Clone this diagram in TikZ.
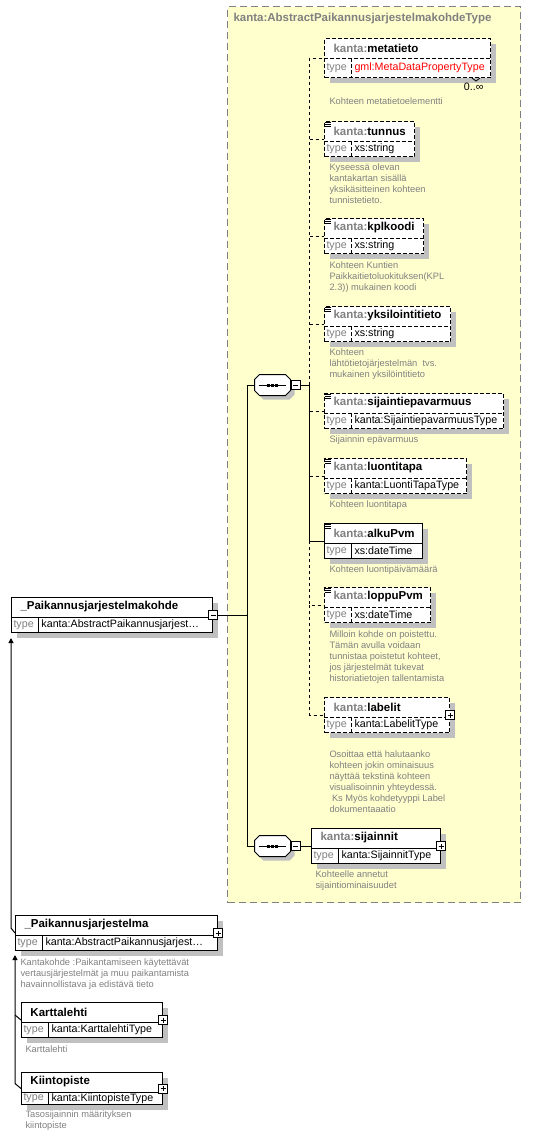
\documentclass[tikz,border=0pt]{standalone}
\usepackage{fontspec}
\setmainfont{Liberation Sans}
\usetikzlibrary{positioning, arrows.meta, calc, shadows}

\definecolor{schemayellow}{RGB}{255,255,206}
\definecolor{framegray}{RGB}{128,128,128}
\definecolor{shadowgray}{RGB}{192,192,192}
\definecolor{docgray}{RGB}{128,128,128}
\definecolor{typered}{RGB}{255,0,0}

\newcommand{\namefont}{\fontsize{11.5}{13}\selectfont\bfseries}
\newcommand{\typefont}{\fontsize{10.7}{12}\selectfont}
\newcommand{\docfont}{\fontsize{9.3}{11}\selectfont}
\newcommand{\pfx}{\textcolor{docgray}{kanta:}}

% element box: id, extra style, x, y, width, name, type
\newcommand{\xelem}[7]{%
  \node[elembox, #2, minimum width=#5, anchor=north west] (#1) at (#3,#4) {};
  \draw[#2] ([yshift=-20pt]#1.north west) -- ([yshift=-20pt]#1.north east);
  \draw[#2] ([xshift=27pt,yshift=-20pt]#1.north west) -- ([xshift=27pt]#1.south west);
  \coordinate (#1-row) at ($([yshift=-20pt]#1.north west)!0.5!(#1.south west)$);
  \node[anchor=west, inner sep=0pt, font=\namefont] (#1-name) at ([xshift=9pt,yshift=-10pt]#1.north west) {#6};
  \node[anchor=west, inner sep=0pt, font=\typefont, text=docgray] (#1-tlabel) at ([xshift=2pt]#1-row) {type};
  \node[anchor=west, inner sep=0pt, font=\typefont] (#1-type) at ([xshift=30pt]#1-row) {#7};
}
% documentation mark in the corner of a box
\newcommand{\docicon}[1]{%
  \draw[line width=0.8pt] ([xshift=1pt,yshift=-1pt]#1.north west) -- ++(6,0);
  \draw[line width=0.8pt] ([xshift=1pt,yshift=-3pt]#1.north west) -- ++(6,0);
  \draw[line width=0.8pt] ([xshift=1pt,yshift=-5pt]#1.north west) -- ++(6,0);
}
% sequence compositor: id, x, y
\newcommand{\seqcomp}[3]{%
  \node[seqbox] (#1) at (#2,#3) {};
  \draw[fill=white, drop shadow={shadow xshift=4pt, shadow yshift=-4pt, fill=shadowgray, opacity=1}]
    ([xshift=5pt]#1.north west) -- ([xshift=-5pt]#1.north east) -- ([yshift=-5pt]#1.north east)
    -- ([yshift=5pt]#1.south east) -- ([xshift=-5pt]#1.south east) -- ([xshift=5pt]#1.south west)
    -- ([yshift=5pt]#1.south west) -- ([yshift=-5pt]#1.north west) -- cycle;
  \draw ([xshift=4pt]#1.west) -- ([xshift=-5pt]#1.east);
  \foreach \d in {-4,0,4}
    \fill ([xshift=\d pt-1.6pt,yshift=-1.5pt]#1.center) rectangle ([xshift=\d pt+1.6pt,yshift=1.5pt]#1.center);
}

\begin{document}
\begin{tikzpicture}[x=1pt, y=-1pt, line width=1pt,
    % Styles
    typebox/.style={draw=framegray, fill=schemayellow, dash pattern=on 7pt off 4pt, inner sep=0pt},
    elembox/.style={draw, fill=white, inner sep=0pt, minimum height=35,
        drop shadow={shadow xshift=5pt, shadow yshift=-5pt, fill=shadowgray, opacity=1}},
    optbox/.style={dash pattern=on 4pt off 2pt},
    optline/.style={dash pattern=on 3pt off 3pt},
    doc/.style={anchor=north west, inner sep=0pt, align=left, font=\docfont, text=docgray},
    minusbox/.style={draw, fill=white, minimum size=9pt, inner sep=0pt,
        path picture={\draw[line width=0.8pt] ([xshift=2pt]path picture bounding box.west) -- ([xshift=-2pt]path picture bounding box.east);}},
    plusbox/.style={draw, fill=white, minimum size=9pt, inner sep=0pt,
        path picture={\draw[line width=0.8pt] ([xshift=2pt]path picture bounding box.west) -- ([xshift=-2pt]path picture bounding box.east);
            \draw[line width=0.8pt] ([yshift=-2pt]path picture bounding box.north) -- ([yshift=2pt]path picture bounding box.south);}},
    seqbox/.style={minimum width=35pt, minimum height=20pt, inner sep=0pt},
    inherit/.style={-{Triangle[length=5pt,width=5pt]}},
]
\useasboundingbox (0,0) rectangle (547,1136);

% Abstract type frame
\node[typebox, minimum width=293, minimum height=896, anchor=north west] (abstype) at (227,6) {};
\node[anchor=west, inner sep=0pt, font=\namefont, text=docgray] (abstype-title) at (233,19) {kanta:AbstractPaikannusjarjestelmakohdeType};

% Elements of the first sequence
\xelem{metatieto}{optbox, minimum height=39}{324}{38}{166}{\pfx metatieto}{\textcolor{typered}{gml:MetaDataPropertyType}}
\node[font=\typefont, anchor=north east, inner sep=0pt] (metatieto-mult) at ([xshift=-7pt,yshift=-5pt]metatieto.south east) {0..∞};
\draw[line width=0.8pt] ([xshift=-19pt]metatieto.south east) -- ++(4,3) -- ++(4,-3);
\node[doc] (metatieto-doc) at (329,97.5) {Kohteen metatietoelementti};

\xelem{tunnus}{optbox}{324}{121}{90}{\pfx tunnus}{xs:string}
\docicon{tunnus}
\node[doc] (tunnus-doc) at (329,163.5) {Kyseessä olevan\\kantakartan sisällä\\yksikäsitteinen kohteen\\tunnistetieto.};

\xelem{kplkoodi}{optbox}{324}{218}{99}{\pfx kplkoodi}{xs:string}
\docicon{kplkoodi}
\node[doc] (kplkoodi-doc) at (329,261) {Kohteen Kuntien\\Paikkaitietoluokituksen(KPL\\2.3)) mukainen koodi};

\xelem{yksilointitieto}{optbox}{324}{306}{126}{\pfx yksilointitieto}{xs:string}
\docicon{yksilointitieto}
\node[doc] (yksilointitieto-doc) at (329,348) {Kohteen\\lähtötietojärjestelmän~ tvs.\\mukainen yksilöintitieto};

\xelem{sijaintiepavarmuus}{optbox}{324}{393}{179}{\pfx sijaintiepavarmuus}{kanta:SijaintiepavarmuusType}
\docicon{sijaintiepavarmuus}
\node[doc] (sijaintiepavarmuus-doc) at (329,435.5) {Sijainnin epävarmuus};

\xelem{luontitapa}{optbox}{324}{458}{142}{\pfx luontitapa}{kanta:LuontiTapaType}
\docicon{luontitapa}
\node[doc] (luontitapa-doc) at (329,500.5) {Kohteen luontitapa};

\xelem{alkuPvm}{}{324}{523}{98}{\pfx alkuPvm}{xs:dateTime}
\docicon{alkuPvm}
\node[doc] (alkuPvm-doc) at (329,565.5) {Kohteen luontipäivämäärä};

\xelem{loppuPvm}{optbox}{324}{587}{106}{\pfx loppuPvm}{xs:dateTime}
\docicon{loppuPvm}
\node[doc] (loppuPvm-doc) at (329,630.5) {Milloin kohde on poistettu.\\Tämän avulla voidaan\\tunnistaa poistetut kohteet,\\jos järjestelmät tukevat\\historiatietojen tallentamista};

\xelem{labelit}{optbox}{324}{697}{125}{\pfx labelit}{kanta:LabelitType}
\node[plusbox] (labelit-p) at (labelit.east) {};
\node[doc] (labelit-doc) at (329,750.5) {Osoittaa että halutaanko\\kohteen jokin ominaisuus\\näyttää tekstinä kohteen\\visualisoinnin yhteydessä.\\\hspace*{2.5pt}Ks Myös kohdetyyppi Label\\dokumentaaatio};

% Element of the second sequence
\xelem{sijainnit}{}{311}{828}{129}{\pfx sijainnit}{kanta:SijainnitType}
\node[plusbox] (sijainnit-p) at (sijainnit.east) {};
\node[doc] (sijainnit-doc) at (315,870.5) {Kohteelle annetut\\sijaintiominaisuudet};

% Sequence compositors
\seqcomp{seq1}{272.5}{385}
\node[minusbox, right=0pt of seq1] (seq1-m) {};
\seqcomp{seq2}{272.5}{846}
\node[minusbox, right=0pt of seq2] (seq2-m) {};

% LEFT SIDE: element and its substitutes
\xelem{pkohde}{}{11}{597}{201}{\_Paikannusjarjestelmakohde}{kanta:AbstractPaikannusjarjest…}
\node[minusbox] (pkohde-m) at (pkohde.east) {};

\xelem{pj}{}{15}{915}{202}{\_Paikannusjarjestelma}{kanta:AbstractPaikannusjarjest…}
\node[plusbox] (pj-p) at (pj.east) {};
\node[doc] (pj-doc) at (20,958.5) {Kantakohde :Paikantamiseen käytettävät\\vertausjärjestelmät ja muu paikantamista\\havainnollistava ja edistävä tieto};

\xelem{karttalehti}{}{21}{1002}{141}{Karttalehti}{kanta:KarttalehtiType}
\node[plusbox] (karttalehti-p) at (karttalehti.east) {};
\node[doc] (karttalehti-doc) at (25,1045.5) {Karttalehti};

\xelem{kiintopiste}{minimum height=32}{21}{1072}{141}{Kiintopiste}{kanta:KiintopisteType}
\node[plusbox] (kiintopiste-p) at (kiintopiste.east) {};
\node[doc] (kiintopiste-doc) at (25,1110.5) {Tasosijainnin määrityksen\\kiintopiste};

% Connectors
\path (pkohde-m.east) ++(29,0) coordinate (bus0);
\path (seq1-m.east) ++(9,0) coordinate (bus1);
\draw (pkohde-m.east) -- (bus0);
\draw (seq1.west) -| (bus0);
\draw (seq2.west) -| (bus0);
\draw (seq1-m.east) -- (bus1);
\draw[optline] (bus1) -- (bus1 |- metatieto.west) -- (metatieto.west);
\draw[optline] (bus1 |- tunnus.west) -- (tunnus.west);
\draw[optline] (bus1 |- kplkoodi.west) -- (kplkoodi.west);
\draw[optline] (bus1 |- yksilointitieto.west) -- (yksilointitieto.west);
\draw[optline] (bus1 |- sijaintiepavarmuus.west) -- (sijaintiepavarmuus.west);
\draw[optline] (bus1 |- luontitapa.west) -- (luontitapa.west);
\draw (bus1) -- (bus1 |- alkuPvm.west) -- (alkuPvm.west);
\draw[optline] (bus1 |- alkuPvm.west) -- (bus1 |- loppuPvm.west) -- (loppuPvm.west);
\draw[optline] (bus1 |- loppuPvm.west) -- (bus1 |- labelit.west) -- (labelit.west);
\draw (seq2-m.east) -- (sijainnit.west);

% Substitution arrows
\draw[inherit] (pj.west) -- ++(-4,-5) -- ([yshift=-5pt]pkohde.south west);
\draw[inherit] (kiintopiste.west) -- ++(-6,-5) -- ([yshift=-4pt]pj.south west);
\draw (karttalehti.west) -- ++(-6,-5);

\end{tikzpicture}
\end{document}
